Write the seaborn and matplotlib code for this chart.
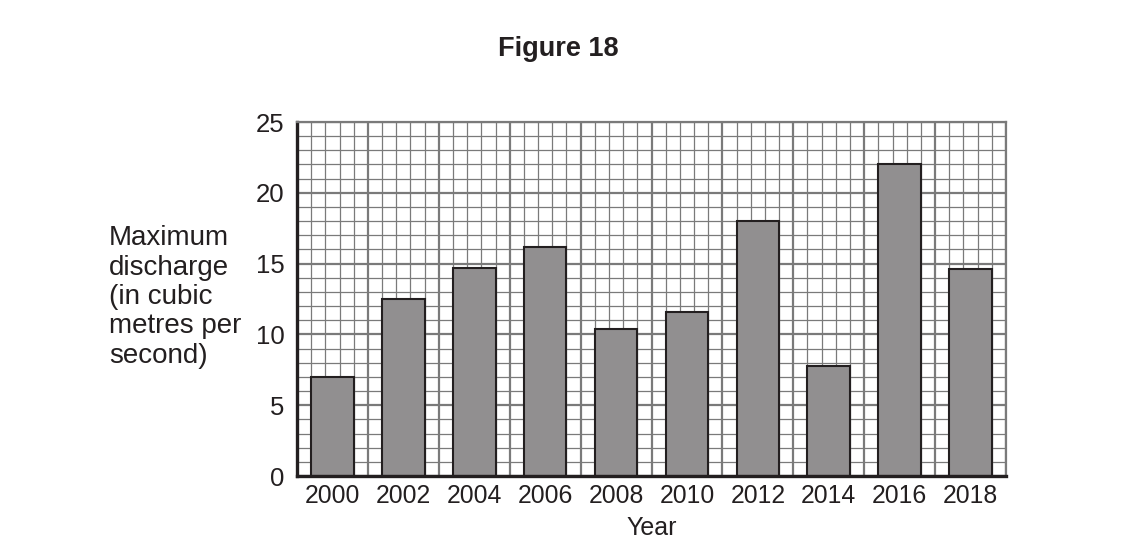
import numpy as np
import pandas as pd
import matplotlib
matplotlib.use("Agg")
import matplotlib.pyplot as plt
import seaborn as sns

years = ["2000", "2002", "2004", "2006", "2008", "2010", "2012", "2014", "2016", "2018"]
discharge = [7.0, 12.5, 14.7, 16.2, 10.4, 11.6, 18.0, 7.8, 22.0, 14.6]

df = pd.DataFrame({"Year": years, "Discharge": discharge})

sns.set_style("white")
plt.rcParams["font.family"] = ["Liberation Sans", "DejaVu Sans"]

GRID = "#7a7a7a"
BAR = "#918f90"
EDGE = "#231f20"
TXT = "#231f20"

fig = plt.figure(figsize=(11.3, 5.35), dpi=100)
ax = fig.add_axes([297 / 1130, 59 / 535, 709 / 1130, 354 / 535])

sns.barplot(data=df, x="Year", y="Discharge", ax=ax, color=BAR, width=0.6,
            edgecolor=EDGE, linewidth=1.5, saturation=1)

n = len(years)
ax.set_xlim(-0.5, n - 0.5)
ax.set_ylim(0, 25)

# grid via ticks
ax.set_xticks(np.arange(-0.5, n, 1.0))
ax.set_xticklabels([""] * (n + 1))
ax.set_xticks(np.arange(-0.5, n - 0.5 + 1e-6, 0.2), minor=True)
ax.set_yticks(np.arange(0, 26, 5))
ax.set_yticks(np.arange(0, 26, 1), minor=True)
ax.grid(which="major", color=GRID, linewidth=1.6)
ax.grid(which="minor", color=GRID, linewidth=0.9)
ax.set_axisbelow(True)

ax.tick_params(axis="both", which="major", direction="out", length=7, width=1.5,
               color=EDGE, labelsize=18.5, labelcolor=TXT, pad=2)
ax.tick_params(axis="both", which="minor", length=0)

for s in ["left", "bottom"]:
    ax.spines[s].set_color(EDGE)
    ax.spines[s].set_linewidth(2.4)
for s in ["top", "right"]:
    ax.spines[s].set_visible(True)
    ax.spines[s].set_color(GRID)
    ax.spines[s].set_linewidth(1.6)

# category labels centred in each column
sec = ax.secondary_xaxis("bottom")
sec.set_xticks(range(n))
sec.set_xticklabels(years)
sec.tick_params(length=0, labelsize=17.8, labelcolor=TXT, pad=6)
sec.spines["bottom"].set_visible(False)

ax.set_ylabel("")
ax.set_xlabel("Year", fontsize=18, color=TXT, labelpad=20)

fig.text(109 / 1130, 1 - 297 / 535,
         "Maximum\ndischarge\n(in cubic\nmetres per\nsecond)",
         ha="left", va="center", multialignment="left", fontsize=20,
         color=TXT, linespacing=1.17)

fig.suptitle("Figure 18", x=558 / 1130, y=1 - 36 / 535, va="top",
             fontsize=19.5, fontweight="bold", color=TXT)

fig.savefig("out.png", dpi=100)
